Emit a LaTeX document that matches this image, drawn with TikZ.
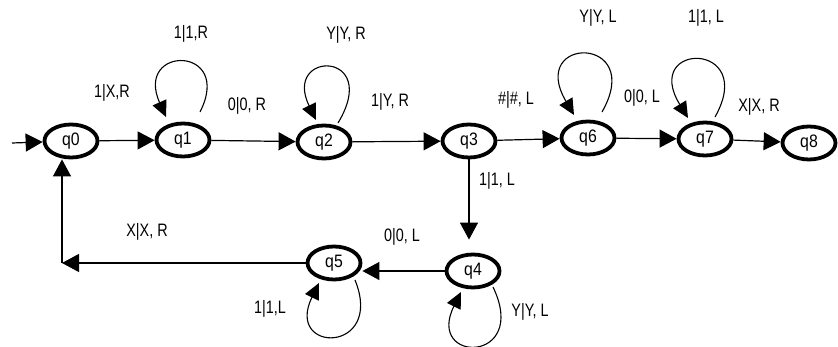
\documentclass[tikz,border=0pt]{standalone}
\usepackage{fontspec}
\setmainfont{Liberation Sans}[FakeStretch=0.8]
\newfontfamily\statefont{Liberation Sans}[FakeStretch=0.88]
\usetikzlibrary{arrows.meta,shapes.geometric}

\begin{document}
\begin{tikzpicture}[x=1pt,y=-1pt,
  state/.style={ellipse, draw, line width=3.8pt, minimum width=53pt,
    minimum height=33pt, inner sep=0pt,
    font=\statefont\fontsize{18}{18}\selectfont},
  edge/.style={line width=1.2pt, -{Triangle[length=17pt,width=18pt]}},
  loopedge/.style={line width=1.1pt, -{Triangle[length=16pt,width=15pt]}},
  lbl/.style={inner sep=0pt, font=\fontsize{18}{18}\selectfont}]

% canvas
\fill[white] (0,0) rectangle (838,347);
\useasboundingbox (0,0) rectangle (838,347);

% states
\node[state] (q0) at (71,141) {q0};
\node[state] (q1) at (183,140) {q1};
\node[state] (q2) at (324,142) {q2};
\node[state] (q3) at (469,141) {q3};
\node[state] (q6) at (588,138) {q6};
\node[state] (q7) at (705,139) {q7};
\node[state] (q8) at (809,143) {q8};
\node[state] (q4) at (473,271) {q4};
\node[state] (q5) at (334,263) {q5};

% helper points
\coordinate (start) at (12,143);
\coordinate (corner) at (62,263);
\coordinate (q4top) at ([yshift=13pt]q4.north);

% straight transitions
\draw[edge] (start) -- (q0);
\draw[edge] (q0) -- (q1);
\draw[edge] (q1) -- (q2);
\draw[edge] (q2) -- (q3);
\draw[edge] (q3) -- (q6);
\draw[edge] (q6) -- (q7);
\draw[edge] (q7) -- (q8);
\draw[edge] (q3.south) -- (q3.south |- q4top);
\draw[edge] (q4.west) -- (q4.west -| q5.east);
\draw[edge] (q5.west) -- (corner);
\draw[edge] (corner) -- (corner |- q0.south);

% self loops
\draw[loopedge] ([shift={(17,-28)}]q1.center) .. controls ([shift={(51,-95)}]q1.center) and ([shift={(-49,-95)}]q1.center) .. ([shift={(-17,-23)}]q1.center);
\draw[loopedge] ([shift={(14,-19)}]q2.center) .. controls ([shift={(58,-92)}]q2.center) and ([shift={(-42,-92)}]q2.center) .. ([shift={(-8,-22)}]q2.center);
\draw[loopedge] ([shift={(14,-26)}]q6.center) .. controls ([shift={(58,-103)}]q6.center) and ([shift={(-61,-103)}]q6.center) .. ([shift={(-14,-23)}]q6.center);
\draw[loopedge] ([shift={(10,-22)}]q7.center) .. controls ([shift={(53,-98)}]q7.center) and ([shift={(-64,-98)}]q7.center) .. ([shift={(-17,-21)}]q7.center);
\draw[loopedge] ([shift={(21,17)}]q5.center) .. controls ([shift={(51,91)}]q5.center) and ([shift={(-50,91)}]q5.center) .. ([shift={(-15,20)}]q5.center);
\draw[loopedge] ([shift={(20,16)}]q4.center) .. controls ([shift={(57,93)}]q4.center) and ([shift={(-48,93)}]q4.center) .. ([shift={(-12,21)}]q4.center);

% transition labels
\node[lbl] (t01) at (112,93) {1|X,R};
\node[lbl] (t11) at (191,34) {1|1,R};
\node[lbl] (t12) at (247,106) {0|0, R};
\node[lbl] (t22) at (346,35) {Y|Y, R};
\node[lbl] (t23) at (390,102) {1|Y, R};
\node[lbl] (t36) at (516,100) {\#|\#, L};
\node[lbl] (t34) at (497,181) {1|1, L};
\node[lbl] (t66) at (598,18) {Y|Y, L};
\node[lbl] (t67) at (642,98) {0|0, L};
\node[lbl] (t77) at (706,18) {1|1, L};
\node[lbl] (t78) at (759,107) {X|X, R};
\node[lbl] (t50) at (147,232) {X|X, R};
\node[lbl] (t45) at (402,237) {0|0, L};
\node[lbl] (t55) at (270,309) {1|1,L};
\node[lbl] (t44) at (530,312) {Y|Y, L};
\end{tikzpicture}
\end{document}
